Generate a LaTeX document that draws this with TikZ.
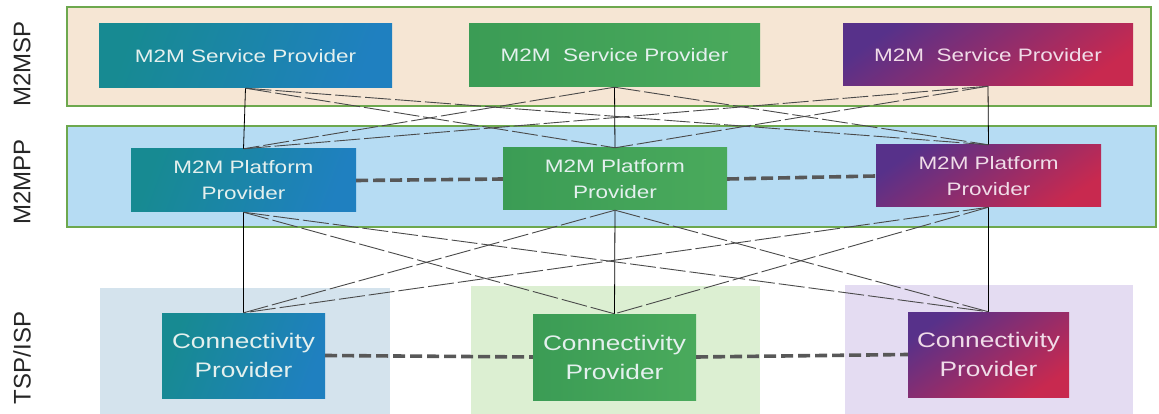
\documentclass[tikz,border=0pt]{standalone}
\usepackage{fontspec}
\setmainfont{Liberation Sans}
\newfontfamily\boxfont[FakeStretch=1.25]{Liberation Sans}
\definecolor{bandbeige}{HTML}{F6E6D4}
\definecolor{bandblue}{HTML}{B6DCF3}
\definecolor{bandedge}{HTML}{6DA84E}
\definecolor{shadeblue}{HTML}{D4E3ED}
\definecolor{shadegreen}{HTML}{DCEFD2}
\definecolor{shadeviolet}{HTML}{E4DCF2}
\definecolor{tealA}{HTML}{178A92}
\definecolor{tealB}{HTML}{1F80C0}
\definecolor{greenA}{HTML}{3B9C55}
\definecolor{greenB}{HTML}{4AAA5C}
\definecolor{plumA}{HTML}{57318A}
\definecolor{plumM}{HTML}{A5215A}
\definecolor{plumB}{HTML}{C8294F}
\definecolor{boxtext}{HTML}{E4F0EE}
\definecolor{plumtext}{HTML}{F0DCE8}
\definecolor{linkgray}{HTML}{4A4A4A}
\definecolor{peergray}{HTML}{585858}
\tikzset{
  band/.style={draw=bandedge, line width=1.6pt},
  prov/.style={rectangle, inner sep=0pt, align=center, text=boxtext},
  svc/.style={prov, font=\boxfont\fontsize{18}{20}\selectfont},
  plat/.style={prov, font=\boxfont\fontsize{18}{26}\selectfont},
  conn/.style={prov, font=\boxfont\fontsize{21}{29}\selectfont},
  teal/.style={left color=tealA, right color=tealB, shading angle=70},
  grn/.style={left color=greenA, right color=greenB},
  plum/.style={top color=plumA, middle color=plumM, bottom color=plumB, shading angle=35, text=plumtext},
  vlink/.style={draw=black, line width=0.8pt},
  xlink/.style={draw=linkgray, line width=0.9pt, dash pattern=on 26pt off 4pt},
  peer/.style={draw=peergray, line width=3.6pt, dash pattern=on 12pt off 5pt},
  layer/.style={rotate=90, font=\fontsize{24}{26}\selectfont, text=black!85}
}
\begin{document}
\begin{tikzpicture}[x=1pt, y=-1pt]
\useasboundingbox (0,0) rectangle (1159,414);
\fill[white] (0,0) rectangle (1159,414);

% layer bands
\draw[band, fill=bandbeige] (67,7) rectangle (1151,106);
\draw[band, fill=bandblue] (67,126) rectangle (1156,227);

% regions behind the connectivity providers
\fill[shadeblue] (100,288) rectangle (390,414);
\fill[shadegreen] (471,286) rectangle (760,414);
\fill[shadeviolet] (845,285) rectangle (1133,414);

% layer names
\node[layer] (lsp) at (22,64) {M2MSP};
\node[layer] (lpp) at (22,182) {M2MPP};
\node[layer] (lisp) at (22,358) {TSP/ISP};

% providers
\node[svc, teal, minimum width=293pt, minimum height=64pt] (sp1) at (245.5,56) {M2M Service Provider};
\node[svc, grn, minimum width=291pt, minimum height=63pt] (sp2) at (614.5,55.5) {M2M\ \ Service Provider};
\node[svc, plum, minimum width=290pt, minimum height=62pt] (sp3) at (988,55) {M2M\ \ Service Provider};

\node[plat, teal, minimum width=225pt, minimum height=63pt] (pp1) at (243.5,180.5) {M2M Platform\\Provider};
\node[plat, grn, minimum width=224pt, minimum height=62pt] (pp2) at (615,179) {M2M Platform\\Provider};
\node[plat, plum, minimum width=225pt, minimum height=62pt] (pp3) at (988.5,176) {M2M Platform\\Provider};

\node[conn, teal, minimum width=163pt, minimum height=85pt] (cp1) at (243.5,355.5) {Connectivity\\Provider};
\node[conn, grn, minimum width=163pt, minimum height=86pt] (cp2) at (614.5,357) {Connectivity\\Provider};
\node[conn, plum, minimum width=161pt, minimum height=85pt] (cp3) at (988.5,354.5) {Connectivity\\Provider};

% service providers to platform providers
\draw[vlink] (sp1.south) -- (pp1.north);
\draw[vlink] (sp2.south) -- (pp2.north);
\draw[vlink] (sp3.south) -- (pp3.north);
\draw[xlink] (sp1.south) -- (pp2.north);
\draw[xlink] (sp1.south) -- (pp3.north);
\draw[xlink] (sp2.south) -- (pp1.north);
\draw[xlink] (sp2.south) -- (pp3.north);
\draw[xlink] (sp3.south) -- (pp1.north);
\draw[xlink] (sp3.south) -- (pp2.north);

% platform providers to connectivity providers
\draw[vlink] (pp1.south) -- (cp1.north);
\draw[vlink] (pp2.south) -- (cp2.north);
\draw[vlink] (pp3.south) -- (cp3.north);
\draw[xlink] (pp1.south) -- (cp2.north);
\draw[xlink] (pp1.south) -- (cp3.north);
\draw[xlink] (pp2.south) -- (cp1.north);
\draw[xlink] (pp2.south) -- (cp3.north);
\draw[xlink] (pp3.south) -- (cp1.north);
\draw[xlink] (pp3.south) -- (cp2.north);

% peering between providers of the same layer
\draw[peer] (pp1.east) -- (pp2.west);
\draw[peer] (pp2.east) -- (pp3.west);
\draw[peer] (cp1.east) -- (cp2.west);
\draw[peer] (cp2.east) -- (cp3.west);
\end{tikzpicture}
\end{document}
